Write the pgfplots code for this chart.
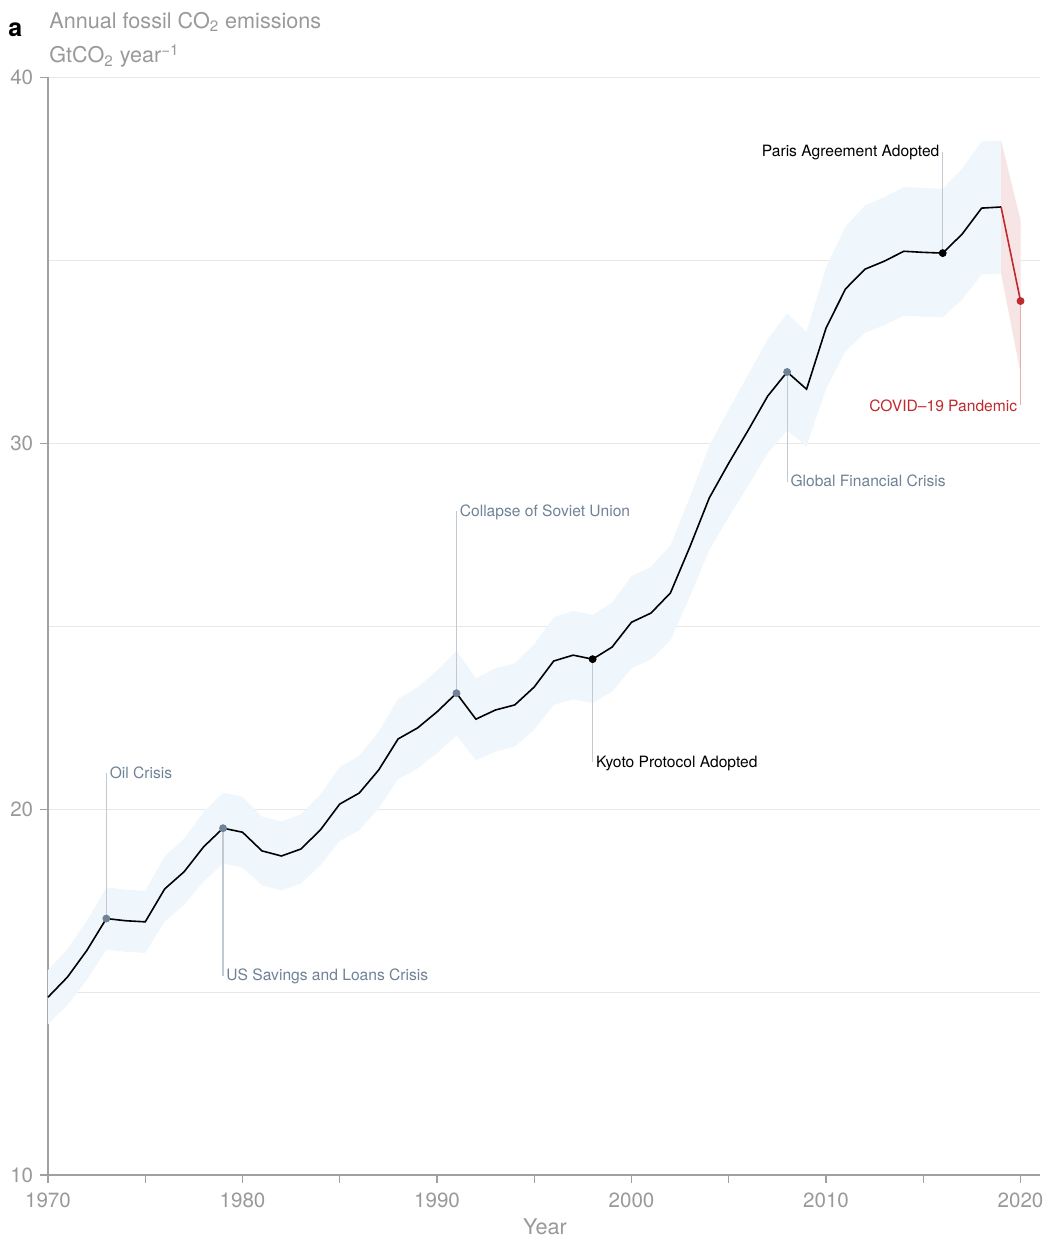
\documentclass[border=0pt]{standalone}
\usepackage{pgfplots}
\pgfplotsset{compat=1.18}
\usepackage{pgfplotstable}
\usepgfplotslibrary{fillbetween}
\usepackage{fontspec}
\setmainfont{TeX Gyre Heros}

\definecolor{bandblue}{HTML}{F0F7FC}
\definecolor{bandred}{HTML}{F7E4E4}
\definecolor{covidred}{HTML}{BE2A2E}
\definecolor{slate}{HTML}{6F8296}
\definecolor{connector}{HTML}{C3C9D0}
\definecolor{connred}{HTML}{E8AEB0}
\definecolor{gridgrey}{HTML}{E8E8E8}
\definecolor{axisgrey}{HTML}{A0A0A0}
\definecolor{tickgrey}{HTML}{999999}

\pgfplotstableread{
year val up lo
1970 14.86 15.60 14.12
1971 15.41 16.18 14.64
1972 16.14 16.95 15.33
1973 17.01 17.86 16.16
1974 16.95 17.80 16.10
1975 16.92 17.77 16.07
1976 17.82 18.71 16.93
1977 18.29 19.20 17.38
1978 18.97 19.92 18.02
1979 19.48 20.45 18.51
1980 19.37 20.34 18.40
1981 18.86 19.80 17.92
1982 18.72 19.66 17.78
1983 18.91 19.86 17.96
1984 19.43 20.40 18.46
1985 20.14 21.15 19.13
1986 20.44 21.46 19.42
1987 21.07 22.12 20.02
1988 21.92 23.02 20.82
1989 22.22 23.33 21.11
1990 22.66 23.79 21.53
1991 23.17 24.33 22.01
1992 22.46 23.58 21.34
1993 22.71 23.85 21.57
1994 22.85 23.99 21.71
1995 23.34 24.51 22.17
1996 24.05 25.25 22.85
1997 24.21 25.42 23.00
1998 24.10 25.31 22.90
1999 24.43 25.65 23.21
2000 25.11 26.37 23.85
2001 25.36 26.63 24.09
2002 25.91 27.21 24.61
2003 27.17 28.53 25.81
2004 28.51 29.94 27.08
2005 29.46 30.93 27.99
2006 30.36 31.88 28.84
2007 31.29 32.85 29.73
2008 31.95 33.55 30.35
2009 31.48 33.05 29.91
2010 33.15 34.81 31.49
2011 34.22 35.93 32.51
2012 34.76 36.50 33.02
2013 34.98 36.73 33.23
2014 35.25 37.01 33.49
2015 35.22 36.98 33.46
2016 35.20 36.96 33.44
2017 35.72 37.51 33.93
2018 36.43 38.25 34.61
2019 36.46 38.28 34.64
}\emis

\pgfplotstableread{
year val up lo
2019 36.46 38.28 34.64
2020 33.89 36.10 31.92
}\covid

\begin{document}
\begin{tikzpicture}
\begin{axis}[
  scale only axis,
  width=496pt, height=548.75pt,
  xmin=1970, xmax=2021,
  ymin=10, ymax=40,
  axis x line=bottom, axis y line=left,
  axis line style={draw=axisgrey, line width=0.75pt, -},
  tick align=outside,
  major tick length=4pt,
  minor tick length=0pt,
  tick style={draw=axisgrey, line width=0.6pt},
  xtick={1970,1975,...,2020},
  xticklabels={1970,,1980,,1990,,2000,,2010,,2020},
  ytick={10,20,30,40},
  minor ytick={15,25,35},
  ymajorgrids, yminorgrids,
  major grid style={draw=gridgrey, line width=0.5pt},
  minor grid style={draw=gridgrey, line width=0.5pt},
  /pgf/number format/assume math mode=true,
  /pgf/number format/1000 sep={},
  ticklabel style={font=\fontsize{10.3}{12}\selectfont, text=tickgrey},
  yticklabel style={anchor=east, inner sep=0pt, xshift=-3.2pt},
  xticklabel style={anchor=north, inner sep=0pt, yshift=-4.8pt},
  clip=false,
]
% uncertainty bands
\addplot[draw=none, name path=U] table[x=year, y=up]{\emis};
\addplot[draw=none, name path=L] table[x=year, y=lo]{\emis};
\addplot[fill=bandblue, draw=none] fill between[of=U and L];
\addplot[draw=none, name path=CU] table[x=year, y=up]{\covid};
\addplot[draw=none, name path=CL] table[x=year, y=lo]{\covid};
\addplot[fill=bandred, draw=none] fill between[of=CU and CL];

% connectors
\addplot[connector, line width=0.6pt] coordinates {(1973,17.01) (1973,20.99)};
\addplot[connector, line width=0.6pt] coordinates {(1979,19.48) (1979,15.45)};
\addplot[connector, line width=0.6pt] coordinates {(1991,23.17) (1991,28.15)};
\addplot[connector, line width=0.6pt] coordinates {(1998,24.10) (1998,21.28)};
\addplot[connector, line width=0.6pt] coordinates {(2008,31.95) (2008,28.94)};
\addplot[connector, line width=0.6pt] coordinates {(2016,35.20) (2016,37.96)};
\addplot[connred, line width=0.6pt] coordinates {(2020,33.89) (2020,31.05)};

% main series
\addplot[black, line width=0.8pt] table[x=year, y=val]{\emis};
\addplot[covidred, line width=0.8pt] table[x=year, y=val]{\covid};

% event markers
\addplot[only marks, mark=*, mark size=1.75pt, slate] coordinates {(1973,17.01) (1979,19.48) (1991,23.17) (2008,31.95)};
\addplot[only marks, mark=*, mark size=1.75pt, black] coordinates {(1998,24.10) (2016,35.20)};
\addplot[only marks, mark=*, mark size=1.75pt, covidred] coordinates {(2020,33.89)};

% labels
\begin{scope}[every node/.style={inner sep=0pt, font=\fontsize{7.8}{9}\selectfont}]
\node[anchor=base west, text=slate, xshift=1.5pt] at (axis cs:1973,20.85) {Oil Crisis};
\node[anchor=base west, text=slate, xshift=1.5pt] at (axis cs:1979,15.32) {US Savings and Loans Crisis};
\node[anchor=base west, text=slate, xshift=1.5pt] at (axis cs:1991,28.01) {Collapse of Soviet Union};
\node[anchor=base west, text=black, xshift=1.5pt] at (axis cs:1998,21.15) {Kyoto Protocol Adopted};
\node[anchor=base west, text=slate, xshift=1.5pt] at (axis cs:2008,28.81) {Global Financial Crisis};
\node[anchor=base east, text=black, xshift=-1.5pt] at (axis cs:2016,37.85) {Paris Agreement Adopted};
\node[anchor=base east, text=covidred, xshift=-1.5pt] at (axis cs:2020,30.86) {COVID–19 Pandemic};
\end{scope}
\end{axis}

% titles
\node[anchor=base west, inner sep=0pt, text=tickgrey, font=\fontsize{10.8}{12}\selectfont]
  at ([shift={(0.5pt,24.6pt)}]current axis.north west) {Annual fossil CO\textsubscript{2} emissions};
\node[anchor=base west, inner sep=0pt, text=tickgrey, font=\fontsize{10.8}{12}\selectfont]
  at ([shift={(0.5pt,7.25pt)}]current axis.north west) {GtCO\textsubscript{2} year\textsuperscript{−1}};
\node[anchor=base west, inner sep=0pt, text=black, font=\fontsize{12.5}{14}\bfseries]
  at ([shift={(-20pt,20.5pt)}]current axis.north west) {a};
\node[anchor=base, inner sep=0pt, text=tickgrey, font=\fontsize{10.8}{12}\selectfont]
  at ([shift={(248.5pt,-29.5pt)}]current axis.south west) {Year};

\pgfresetboundingbox
\path[use as bounding box] ([shift={(-24pt,-31.5pt)}]current axis.south west) rectangle ([shift={(4pt,38.75pt)}]current axis.north east);
\end{tikzpicture}
\end{document}
